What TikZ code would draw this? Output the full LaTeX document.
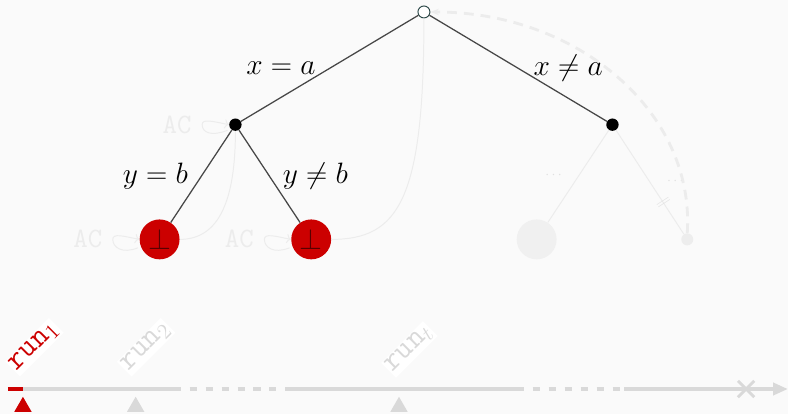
\RequirePackage{fix-cm}
\documentclass[tikz,border=0pt]{standalone}
\usepackage{fontspec}
\usetikzlibrary{arrows.meta,shapes.geometric,shapes.misc}
\definecolor{runred}{HTML}{CC0000}
\definecolor{faint}{HTML}{ECECEC}
\definecolor{axisgray}{HTML}{D9D9D9}
\definecolor{rootline}{HTML}{2E4A4A}
\definecolor{bg}{HTML}{FAFAFA}
\begin{document}
\begin{tikzpicture}[font=\fontsize{21}{25}\selectfont,
  dot/.style={circle, fill=black, inner sep=0pt, minimum size=0.31cm},
  fail/.style={circle, fill=runred, inner sep=0pt, minimum size=1cm, text=red!35!black},
  ghost/.style={circle, fill=#1, inner sep=0pt},
  edge/.style={draw=black!72, line width=0.9pt},
  lbl/.style={inner sep=2pt},
  faintline/.style={draw=faint, line width=0.7pt},
  ac/.style={text=faint, font=\ttfamily\fontsize{20}{24}\selectfont},
  axis/.style={draw=axisgray, line width=0.1cm},
  marker/.style={regular polygon, regular polygon sides=3, inner sep=0pt, minimum size=0.5cm, fill=#1},
  runlabel/.style={rotate=45, anchor=south west, fill=white, inner sep=1pt, text=#1, font=\ttfamily\fontsize{22}{26}\selectfont}]
  \fill[bg] (0,0) rectangle (19.75,10.375);

  % tree nodes
  \node[circle, draw=rootline, fill=white, inner sep=0pt, minimum size=0.3cm, line width=0.7pt] (root) at (10.625,10.075) {};
  \node[dot] (xa) at (5.9,7.25) {};
  \node[dot] (xna) at (15.35,7.25) {};
  \node[fail] (yb) at (4.0,4.375) {$\bot$};
  \node[fail] (ynb) at (7.8,4.375) {$\bot$};
  \node[ghost=black!6, minimum size=1cm] (g1) at (13.45,4.375) {};
  \node[ghost=black!7, minimum size=0.3cm] (g2) at (17.225,4.375) {};

  % faint backtracking
  \node[ac] (ac0) at (4.44,7.25) {AC};
  \node[ac] (ac1) at (2.2,4.375) {AC};
  \node[ac] (ac2) at (6.0,4.375) {AC};
  \draw[faintline, ->] ([xshift=-1pt,yshift=-4pt]xa.west) .. controls +(-0.4,-0.16) and +(0,-0.2) .. ([xshift=4pt]ac0.east) .. controls +(0,0.16) and +(-0.4,0.08) .. (xa.west);
  \draw[faintline, ->] ([xshift=-1pt,yshift=-6pt]yb.west) .. controls +(-0.4,-0.16) and +(0,-0.2) .. ([xshift=4pt]ac1.east) .. controls +(0,0.16) and +(-0.4,0.08) .. (yb.west);
  \draw[faintline, ->] ([xshift=-1pt,yshift=-6pt]ynb.west) .. controls +(-0.4,-0.16) and +(0,-0.2) .. ([xshift=4pt]ac2.east) .. controls +(0,0.16) and +(-0.4,0.08) .. (ynb.west);
  \draw[faintline] (xa.south) .. controls (5.9,5.375) and (5.5,4.375) .. (yb.east);
  \draw[faintline] (root.south) .. controls (10.625,5.375) and (10,4.375) .. (ynb.east);
  \draw[faintline] (xna) -- (g1);
  \draw[faintline] (xna) -- node[pos=0.7, sloped, text=black!12, font=\normalsize] {$\parallel$} (g2);
  \node[text=black!12, font=\normalsize] (dots1) at (13.875,5.975) {$\cdots$};
  \node[text=black!12, font=\normalsize] (dots2) at (16.925,5.825) {$\cdots$};
  \draw[draw=faint, line width=2pt, dash pattern=on 7pt off 5pt, -{Stealth[length=6pt]}] (g2.north) .. controls (17.425,7.575) and (14.475,10.075) .. (root.east);

  % tree edges
  \draw[edge] (root) -- node[lbl, midway, left=0.27cm] {$x = a$} (xa);
  \draw[edge] (root) -- node[lbl, midway, right=0.3cm] {$x \neq a$} (xna);
  \draw[edge] (xa) -- node[lbl, midway, left=0.25cm] {$y = b$} (yb);
  \draw[edge] (xa) -- node[lbl, midway, right=0.25cm] {$y \neq b$} (ynb);

  % runs
  \coordinate (t0) at (0.2,0.625);
  \coordinate (t1) at (0.575,0.625);
  \coordinate (t2) at (4.35,0.625);
  \coordinate (t3) at (7.15,0.625);
  \coordinate (t4) at (12.95,0.625);
  \coordinate (t5) at (15.65,0.625);
  \coordinate (t6) at (19.75,0.625);
  \draw[axis] (t1) -- (t2);
  \draw[axis, dash pattern=on 5pt off 6.4pt] (t2) -- (t3);
  \draw[axis] (t3) -- (t4);
  \draw[axis, dash pattern=on 5pt off 6.4pt] (t4) -- (t5);
  \draw[axis, -{Triangle[length=0.375cm, width=0.3cm]}] (t5) -- (t6);
  \draw[draw=runred, line width=0.1cm] (t0) -- (t1);
  \node[cross out, draw=axisgray, line width=2pt, minimum size=0.34cm, inner sep=0pt] (stop) at (18.7,0.625) {};
  \node[marker=runred] (m1) at (0.575,0.18) {};
  \node[marker=axisgray] (m2) at (3.4,0.18) {};
  \node[marker=axisgray] (mt) at (10.0,0.18) {};
  \node[runlabel=runred] (r1) at (0.5,0.93) {run$_1$};
  \node[runlabel=axisgray] (r2) at (3.3,0.93) {run$_2$};
  \node[runlabel=axisgray] (rt) at (9.925,0.9) {run$_t$};
\end{tikzpicture}
\end{document}
